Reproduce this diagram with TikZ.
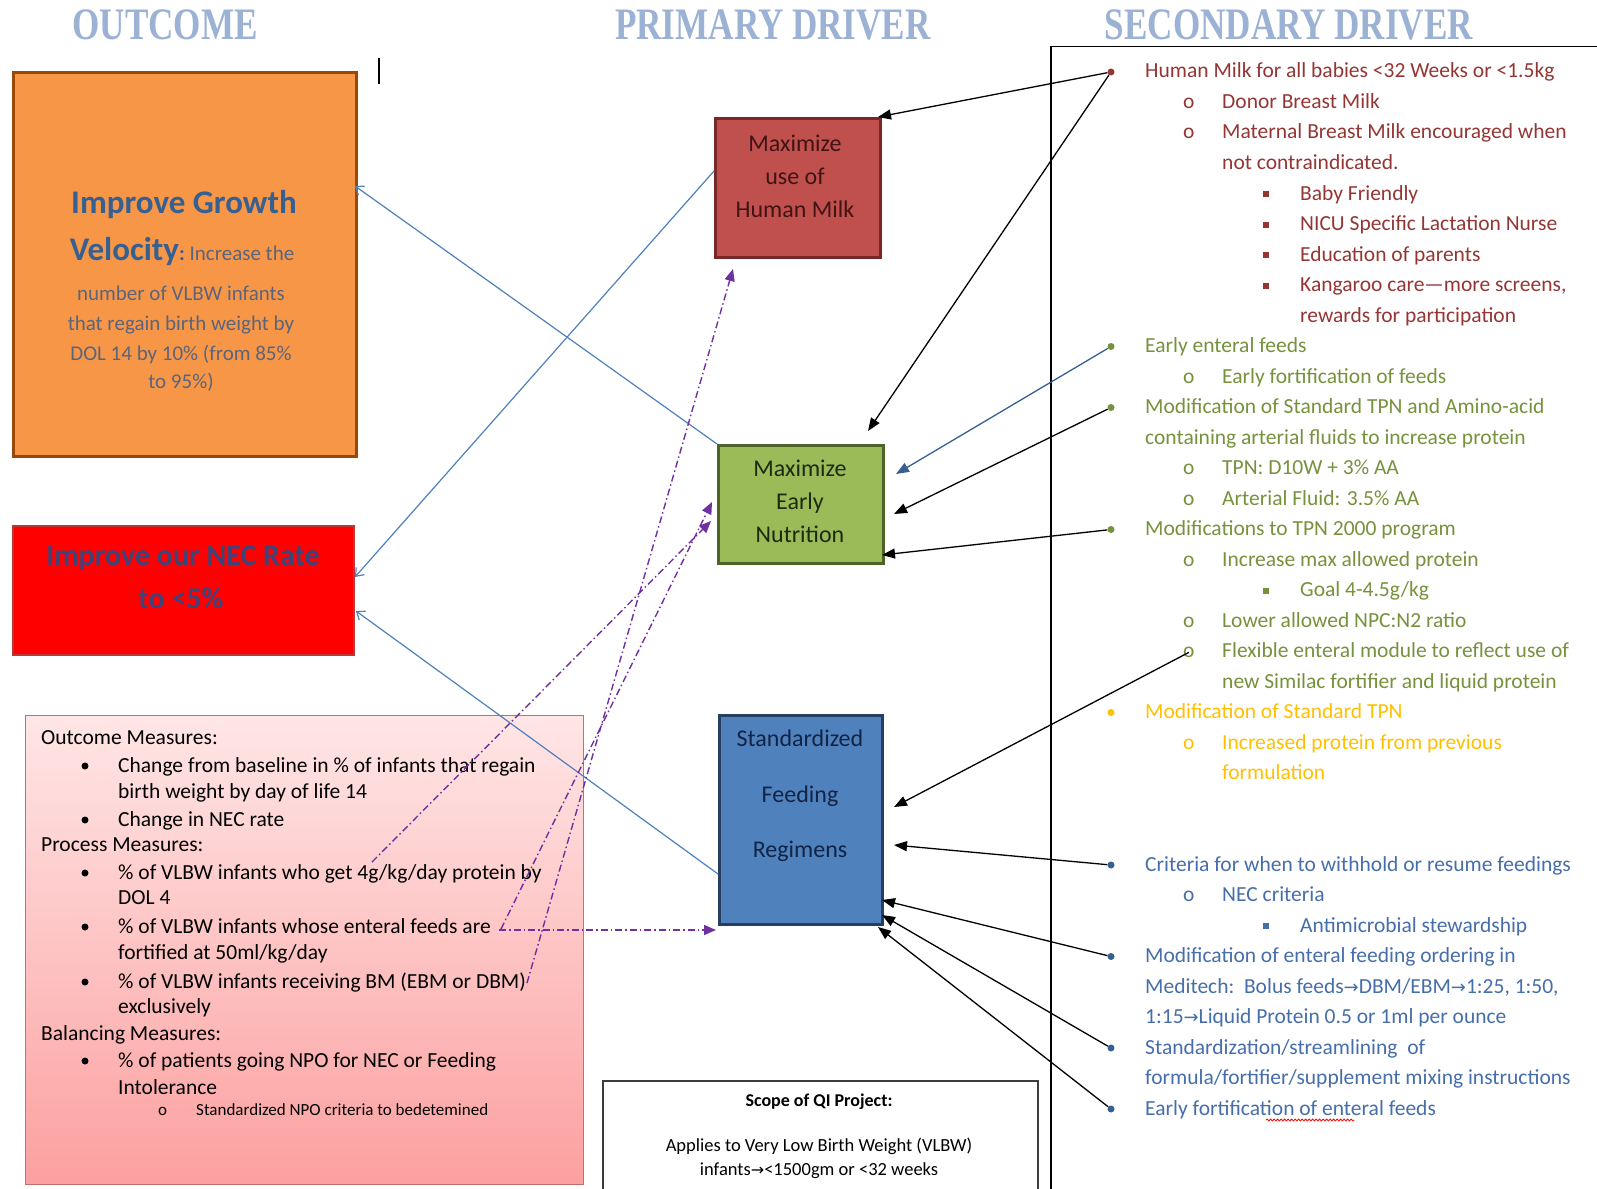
\documentclass[tikz,border=0pt]{standalone}
\usepackage{fontspec}
\setmainfont{Carlito}
\newfontfamily\headfont[FakeStretch=0.78]{Liberation Serif}
\newfontfamily\arrowfont{DejaVu Sans}
\usetikzlibrary{arrows.meta,decorations.pathmorphing}

\definecolor{headblue}{RGB}{155,178,212}
\definecolor{orfill}{RGB}{247,150,70}
\definecolor{ordraw}{RGB}{152,72,7}
\definecolor{titleblue}{RGB}{55,96,146}
\definecolor{smallblue}{RGB}{92,100,122}
\definecolor{necred}{RGB}{255,0,0}
\definecolor{necdraw}{RGB}{185,55,55}
\definecolor{nectext}{RGB}{62,68,122}
\definecolor{milkfill}{RGB}{192,80,77}
\definecolor{milkdraw}{RGB}{120,40,38}
\definecolor{milktext}{RGB}{65,20,20}
\definecolor{nutfill}{RGB}{155,187,89}
\definecolor{nutdraw}{RGB}{79,98,40}
\definecolor{nuttext}{RGB}{30,42,15}
\definecolor{feedfill}{RGB}{79,129,189}
\definecolor{feeddraw}{RGB}{38,62,96}
\definecolor{feedtext}{RGB}{18,36,70}
\definecolor{linkblue}{RGB}{79,129,189}
\definecolor{arrowblue}{RGB}{54,96,146}
\definecolor{dashpurple}{RGB}{112,48,160}
\definecolor{milkred}{RGB}{148,54,52}
\definecolor{olivegreen}{RGB}{118,146,60}
\definecolor{goldtxt}{RGB}{255,192,0}
\definecolor{regblue}{RGB}{70,110,170}
\definecolor{pinktop}{RGB}{255,230,230}
\definecolor{pinkbot}{RGB}{252,160,160}
\definecolor{pinkdraw}{RGB}{196,110,110}
\definecolor{scopedraw}{RGB}{60,60,60}

\tikzset{
  header/.style={font=\headfont\bfseries\fontsize{45}{45}\selectfont, text=headblue, anchor=base, inner sep=0pt},
  sectext/.style={font=\fontsize{21.5}{21.5}\selectfont, anchor=base west, inner sep=0pt},
  mtext/.style={font=\fontsize{21.5}{21.5}\selectfont, anchor=base west, inner sep=0pt, text=black},
  boxtext/.style={font=\fontsize{24}{24}\selectfont, anchor=base, inner sep=0pt},
  smalltext/.style={font=\fontsize{21}{21}\selectfont, anchor=base, inner sep=0pt, text=smallblue},
  outlink/.style={draw=linkblue, line width=1.2pt, -{Straight Barb[length=7pt,width=11pt]}},
  feedarrow/.style={color=black, line width=1.3pt, -{Triangle[length=13pt,width=10pt]}},
  measarrow/.style={color=dashpurple, line width=1.4pt, dash pattern=on 7pt off 3pt on 1.5pt off 3pt, -{Triangle[length=12pt,width=10pt]}},
  ldot/.style={circle, inner sep=0pt, minimum size=7pt},
  mdot/.style={circle, inner sep=0pt, minimum size=7pt, fill=black},
  sqbul/.style={rectangle, inner sep=0pt, minimum size=6pt},
}

% one line of the secondary driver list: index, x, colour, text
\newcommand\secline[4]{\node[sectext, text=#3] (s#1) at (#2, {71+30.5*#1+7}) {#4};}
\newcommand\secdot[2]{\node[ldot, fill=#2] (d#1) at (1111, {71+30.5*#1+1}) {};}
\newcommand\secring[2]{\node[sectext, text=#2] (o#1) at (1183, {71+30.5*#1+7}) {o};}
\newcommand\secsq[2]{\node[sqbul, fill=#2] (q#1) at (1266, {71+30.5*#1+1}) {};}

\begin{document}
\begin{tikzpicture}[x=1pt,y=-1pt]
\useasboundingbox (0,0) rectangle (1597,1188);
\clip (0,0) rectangle (1597,1188);
\fill[white] (0,0) rectangle (1597,1188);

% column headings
\node[header] (hOut) at (165,40) {OUTCOME};
\node[header] (hPri) at (773,40) {PRIMARY DRIVER};
\node[header] (hSec) at (1289,40) {SECONDARY DRIVER};

% text cursor
\draw[line width=1.8pt] (379,58) -- (379,84);

% frame of the secondary driver column
\node[draw=black, line width=1.5pt, minimum width=620pt, minimum height=1220pt, anchor=north west, inner sep=0pt] (secframe) at (1050,46) {};

% outcome boxes
\node[draw=ordraw, fill=orfill, line width=3pt, minimum width=343pt, minimum height=384pt, anchor=north west, inner sep=0pt] (grow) at (12,71) {};
\node[font=\bfseries\fontsize{33}{33}\selectfont, text=titleblue, anchor=base, inner sep=0pt] (g1) at (184,213) {Improve Growth};
\node[anchor=base, inner sep=0pt] (g2) at (182,260) {{\bfseries\fontsize{33}{33}\selectfont\color{titleblue}Velocity}{\fontsize{21}{21}\selectfont\color{titleblue}\textbf{:}\ \color{smallblue}Increase the}};
\node[smalltext] (g3) at (181,300) {number of VLBW infants};
\node[smalltext] (g4) at (181,330) {that regain birth weight by};
\node[smalltext] (g5) at (181,360) {DOL 14 by 10\% (from 85\%};
\node[smalltext] (g6) at (181,388) {to 95\%)};

\node[draw=necdraw, fill=necred, line width=2pt, minimum width=341pt, minimum height=129pt, anchor=north west, inner sep=0pt] (nec) at (12,525) {};
\node[font=\bfseries\fontsize{30}{30}\selectfont, text=nectext, anchor=base, inner sep=0pt] (n1) at (183,565) {Improve our NEC Rate};
\node[font=\bfseries\fontsize{30}{30}\selectfont, text=nectext, anchor=base, inner sep=0pt] (n2) at (181,608) {to <5\%};

% measures box
\node[draw=pinkdraw, top color=pinktop, bottom color=pinkbot, line width=1pt, minimum width=558pt, minimum height=469pt, anchor=north west, inner sep=0pt] (meas) at (25,715) {};
\node[mtext] (m1) at (41,744) {Outcome Measures:};
\node[mdot] (mb1) at (85,766) {};
\node[mtext] (m2) at (118,772) {Change from baseline in \% of infants that regain};
\node[mtext] (m3) at (118,798) {birth weight by day of life 14};
\node[mdot] (mb2) at (85,820) {};
\node[mtext] (m4) at (118,826) {Change in NEC rate};
\node[mtext] (m5) at (41,851) {Process Measures:};
\node[mdot] (mb3) at (85,873) {};
\node[mtext] (m6) at (118,879) {\% of VLBW infants who get 4g/kg/day protein by};
\node[mtext] (m7) at (118,904) {DOL 4};
\node[mdot] (mb4) at (85,927) {};
\node[mtext] (m8) at (118,933) {\% of VLBW infants whose enteral feeds are};
\node[mtext] (m9) at (118,959) {fortified at 50ml/kg/day};
\node[mdot] (mb5) at (85,982) {};
\node[mtext] (m10) at (118,988) {\% of VLBW infants receiving BM (EBM or DBM)};
\node[mtext] (m11) at (118,1013) {exclusively};
\node[mtext] (m12) at (41,1040) {Balancing Measures:};
\node[mdot] (mb6) at (85,1061) {};
\node[mtext] (m13) at (118,1067) {\% of patients going NPO for NEC or Feeding};
\node[mtext] (m14) at (118,1094) {Intolerance};
\node[mtext, font=\fontsize{17}{17}\selectfont] (mo) at (158,1115) {o};
\node[mtext, font=\fontsize{17}{17}\selectfont] (m15) at (196,1115) {Standardized NPO criteria to bedetemined};

% scope box
\node[draw=scopedraw, fill=white, line width=1.5pt, minimum width=435pt, minimum height=140pt, anchor=north west, inner sep=0pt] (scope) at (602,1080) {};
\node[font=\bfseries\fontsize{18}{18}\selectfont, anchor=base, inner sep=0pt] (sc1) at (819,1106) {Scope of QI Project:};
\node[font=\fontsize{18.5}{18.5}\selectfont, anchor=base, inner sep=0pt] (sc2) at (819,1151) {Applies to Very Low Birth Weight (VLBW)};
\node[font=\fontsize{18.5}{18.5}\selectfont, anchor=base, inner sep=0pt] (sc3) at (819,1175) {infants{\arrowfont\fontsize{16}{16}\selectfont →}<1500gm or <32 weeks};

% primary drivers
\node[draw=milkdraw, fill=milkfill, line width=3pt, minimum width=165pt, minimum height=139pt, anchor=north west, inner sep=0pt] (milk) at (714,117) {};
\node[boxtext, text=milktext] (p1) at (795,151) {Maximize};
\node[boxtext, text=milktext] (p2) at (795,184) {use of};
\node[boxtext, text=milktext] (p3) at (795,217) {Human Milk};

\node[draw=nutdraw, fill=nutfill, line width=3pt, minimum width=165pt, minimum height=118pt, anchor=north west, inner sep=0pt] (nut) at (717,444) {};
\node[boxtext, text=nuttext] (p4) at (800,476) {Maximize};
\node[boxtext, text=nuttext] (p5) at (800,509) {Early};
\node[boxtext, text=nuttext] (p6) at (800,542) {Nutrition};

\node[draw=feeddraw, fill=feedfill, line width=3pt, minimum width=163pt, minimum height=209pt, anchor=north west, inner sep=0pt] (feed) at (718,714) {};
\node[boxtext, text=feedtext] (p7) at (800,746) {Standardized};
\node[boxtext, text=feedtext] (p8) at (800,802) {Feeding};
\node[boxtext, text=feedtext] (p9) at (800,857) {Regimens};

% secondary drivers: human milk
\secdot{0}{milkred}
\secline{0}{1145}{milkred}{Human Milk for all babies <32 Weeks or <1.5kg}
\secring{1}{milkred}\secline{1}{1222}{milkred}{Donor Breast Milk}
\secring{2}{milkred}\secline{2}{1222}{milkred}{Maternal Breast Milk encouraged when}
\secline{3}{1222}{milkred}{not contraindicated.}
\secsq{4}{milkred}\secline{4}{1300}{milkred}{Baby Friendly}
\secsq{5}{milkred}\secline{5}{1300}{milkred}{NICU Specific Lactation Nurse}
\secsq{6}{milkred}\secline{6}{1300}{milkred}{Education of parents}
\secsq{7}{milkred}\secline{7}{1300}{milkred}{Kangaroo care—more screens,}
\secline{8}{1300}{milkred}{rewards for participation}

% secondary drivers: early nutrition
\secdot{9}{olivegreen}
\secline{9}{1145}{olivegreen}{Early enteral feeds}
\secring{10}{olivegreen}\secline{10}{1222}{olivegreen}{Early fortification of feeds}
\secdot{11}{olivegreen}
\secline{11}{1145}{olivegreen}{Modification of Standard TPN and Amino-acid}
\secline{12}{1145}{olivegreen}{containing arterial fluids to increase protein}
\secring{13}{olivegreen}\secline{13}{1222}{olivegreen}{TPN: D10W + 3\% AA}
\secring{14}{olivegreen}\secline{14}{1222}{olivegreen}{Arterial Fluid: 3.5\% AA}
\secdot{15}{olivegreen}
\secline{15}{1145}{olivegreen}{Modifications to TPN 2000 program}
\secring{16}{olivegreen}\secline{16}{1222}{olivegreen}{Increase max allowed protein}
\secsq{17}{olivegreen}\secline{17}{1300}{olivegreen}{Goal 4-4.5g/kg}
\secring{18}{olivegreen}\secline{18}{1222}{olivegreen}{Lower allowed NPC:N2 ratio}
\secring{19}{olivegreen}\secline{19}{1222}{olivegreen}{Flexible enteral module to reflect use of}
\secline{20}{1222}{olivegreen}{new Similac fortifier and liquid protein}
\secdot{21}{goldtxt}
\secline{21}{1145}{goldtxt}{Modification of Standard TPN}
\secring{22}{goldtxt}\secline{22}{1222}{goldtxt}{Increased protein from previous}
\secline{23}{1222}{goldtxt}{formulation}

% secondary drivers: feeding regimens
\secdot{26}{arrowblue}
\secline{26}{1145}{regblue}{Criteria for when to withhold or resume feedings}
\secring{27}{regblue}\secline{27}{1222}{regblue}{NEC criteria}
\secsq{28}{regblue}\secline{28}{1300}{regblue}{Antimicrobial stewardship}
\secdot{29}{arrowblue}
\secline{29}{1145}{regblue}{Modification of enteral feeding ordering in}
\secline{30}{1145}{regblue}{Meditech:\ \ Bolus feeds{\arrowfont\fontsize{18}{18}\selectfont →}DBM/EBM{\arrowfont\fontsize{18}{18}\selectfont →}1:25, 1:50,}
\secline{31}{1145}{regblue}{1:15{\arrowfont\fontsize{18}{18}\selectfont →}Liquid Protein 0.5 or 1ml per ounce}
\secdot{32}{arrowblue}
\secline{32}{1145}{regblue}{Standardization/streamlining\ \ of}
\secline{33}{1145}{regblue}{formula/fortifier/supplement mixing instructions}
\secdot{34}{arrowblue}
\secline{34}{1145}{regblue}{Early fortification of enteral feeds}
\draw[red, line width=0.8pt, decorate, decoration={snake, amplitude=1pt, segment length=3.5pt}] (1266,1120) -- (1354,1120);

% primary drivers feed the outcomes
\coordinate (inGrow) at (355,186);
\coordinate (milkL) at (714,171);
\coordinate (inNecA) at (355,577);
\coordinate (feedL) at (718,874);
\coordinate (inNecB) at (356,611);
\draw[outlink] (nut.north west) -- (inGrow);
\draw[outlink] (milkL) -- (inNecA);
\draw[outlink] (feedL) -- (inNecB);

% secondary drivers feed the primary drivers
\coordinate (tipMilk) at (878,117);
\coordinate (tipNutTop) at (868,431);
\coordinate (tipNutA) at (896,474);
\coordinate (tipNutB) at (894,514);
\coordinate (tipNutC) at (882,555);
\coordinate (tipFeedA) at (894,807);
\coordinate (tipFeedB) at (894,845);
\coordinate (tipFeedC) at (882,900);
\coordinate (tipFeedD) at (882,915);
\coordinate (tipFeedE) at (878,927);
\draw[feedarrow] (d0) -- (tipMilk);
\draw[feedarrow] (d0) -- (tipNutTop);
\draw[feedarrow, color=arrowblue] (d9) -- (tipNutA);
\draw[feedarrow] (d11) -- (tipNutB);
\draw[feedarrow] (d15) -- (tipNutC);
\draw[feedarrow] (o19.center) -- (tipFeedA);
\draw[feedarrow] (d26) -- (tipFeedB);
\draw[feedarrow] (d29) -- (tipFeedC);
\draw[feedarrow] (d32) -- (tipFeedD);
\draw[feedarrow] (d34) -- (tipFeedE);

% measures tied to the primary drivers
\coordinate (mA) at (372,862);
\coordinate (mB) at (499,930);
\coordinate (mC) at (501,929);
\coordinate (mD) at (527,983);
\coordinate (tNutLow) at (711,521);
\coordinate (tNutUp) at (712,502);
\coordinate (tFeedL) at (716,930);
\coordinate (tMilkLow) at (733,269);
\draw[measarrow] (mA) -- (tNutLow);
\draw[measarrow] (mB) -- (tFeedL);
\draw[measarrow] (mC) -- (tNutUp);
\draw[measarrow] (mD) -- (tMilkLow);
\end{tikzpicture}
\end{document}
